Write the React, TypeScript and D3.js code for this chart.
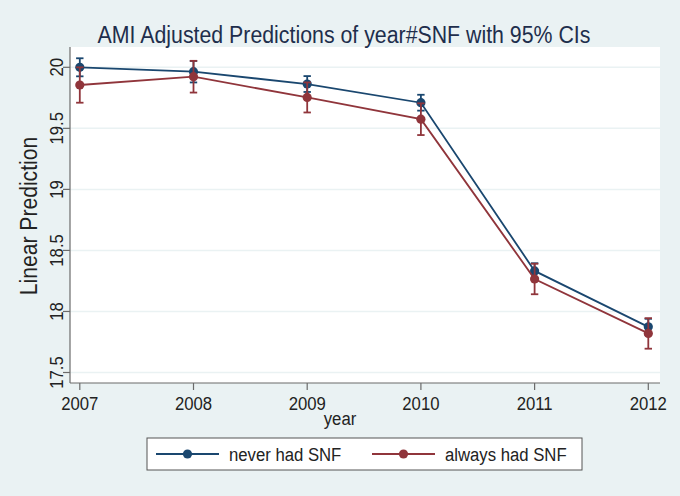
import React from "react";
import * as d3 from "d3";

const years = [2007, 2008, 2009, 2010, 2011, 2012];
const neverValues = [20.0, 19.964, 19.863, 19.71, 18.332, 17.874];
const neverHalfCI = [0.074, 0.088, 0.065, 0.065, 0.063, 0.066];
const alwaysValues = [19.855, 19.923, 19.753, 19.575, 18.266, 17.82];
const alwaysHalfCI = [0.145, 0.13, 0.123, 0.13, 0.125, 0.125];
const yTicks = [17.5, 18, 18.5, 19, 19.5, 20];
const yTickLabels = ["17.5", "18", "18.5", "19", "19.5", "20"];
const seriesNames = ["never had SNF", "always had SNF"];
const seriesColors = ["#1a476f", "#90353b"];

const W = 680;
const H = 496;
const plot = { left: 70, right: 660, top: 47, bottom: 383 };
const FONT = "'Liberation Sans', Arial, Helvetica, sans-serif";
const SQ = 0.88;

function T(props: {
  x: number;
  y: number;
  size: number;
  rotate?: number;
  anchor?: string;
  baseline?: string;
  fill?: string;
  sq?: number;
  children: React.ReactNode;
}) {
  const { x, y, size, rotate = 0, anchor = "middle", baseline, fill = "#222", sq = SQ } = props;
  return (
    <g transform={`translate(${x},${y}) rotate(${rotate}) scale(${sq},1)`}>
      <text
        x={0}
        y={0}
        textAnchor={anchor}
        dominantBaseline={baseline}
        fontSize={size}
        fill={fill}
      >
        {props.children}
      </text>
    </g>
  );
}

export default function App() {
  const x = d3.scaleLinear().domain([2007, 2012]).range([79.8, 648.3]);
  const y = d3.scaleLinear().domain([17.5, 20]).range([372.5, 67.3]);

  const series = [
    { name: seriesNames[0], color: seriesColors[0], values: neverValues, half: neverHalfCI },
    { name: seriesNames[1], color: seriesColors[1], values: alwaysValues, half: alwaysHalfCI },
  ];

  const line = d3
    .line<[number, number]>()
    .x((d) => x(d[0]))
    .y((d) => y(d[1]));

  return (
    <svg
      width={W}
      height={H}
      style={{ position: "absolute", left: 0, top: 0, display: "block" }}
      fontFamily={FONT}
    >
      <rect x={0} y={0} width={W} height={H} fill="#eaf2f3" />
      <rect
        x={plot.left}
        y={plot.top}
        width={plot.right - plot.left}
        height={plot.bottom - plot.top}
        fill="#ffffff"
      />
      {yTicks.map((t) => (
        <line
          key={"g" + t}
          x1={plot.left}
          x2={plot.right}
          y1={y(t)}
          y2={y(t)}
          stroke="#eaf2f3"
          strokeWidth={1.5}
        />
      ))}
      <T x={344} y={43} size={23.7} fill="#1e2e4c" sq={0.9}>
        AMI Adjusted Predictions of year#SNF with 95% CIs
      </T>
      {series.map((s, si) => {
        const pts: [number, number][] = years.map((yr, i) => [yr, s.values[i]]);
        return (
          <g key={"s" + si}>
            <path d={line(pts) || ""} fill="none" stroke={s.color} strokeWidth={1.8} />
            {years.map((yr, i) => {
              const cx = x(yr);
              const top = y(s.values[i] + s.half[i]);
              const bot = y(s.values[i] - s.half[i]);
              return (
                <g key={"e" + i} stroke={s.color} strokeWidth={1.8}>
                  <line x1={cx} x2={cx} y1={top} y2={bot} />
                  <line x1={cx - 3.7} x2={cx + 3.7} y1={top} y2={top} />
                  <line x1={cx - 3.7} x2={cx + 3.7} y1={bot} y2={bot} />
                </g>
              );
            })}
            {years.map((yr, i) => (
              <circle key={"c" + i} cx={x(yr)} cy={y(s.values[i])} r={4.6} fill={s.color} />
            ))}
          </g>
        );
      })}
      <line x1={plot.left} x2={plot.left} y1={plot.top} y2={plot.bottom} stroke="#6b6b6b" strokeWidth={1.2} />
      <line x1={plot.left} x2={plot.right} y1={plot.bottom} y2={plot.bottom} stroke="#6b6b6b" strokeWidth={1.2} />
      {yTicks.map((t, i) => (
        <g key={"yt" + t}>
          <line x1={plot.left - 7} x2={plot.left} y1={y(t)} y2={y(t)} stroke="#6b6b6b" strokeWidth={1.2} />
          <T x={57} y={y(t)} size={19} rotate={-90} baseline="central">
            {yTickLabels[i]}
          </T>
        </g>
      ))}
      {years.map((yr) => (
        <g key={"xt" + yr}>
          <line x1={x(yr)} x2={x(yr)} y1={plot.bottom} y2={plot.bottom + 7} stroke="#6b6b6b" strokeWidth={1.2} />
          <T x={x(yr)} y={410} size={19}>
            {String(yr)}
          </T>
        </g>
      ))}
      <T x={340} y={425} size={19}>
        year
      </T>
      <T x={29} y={216} size={24} rotate={-90} baseline="central">
        Linear Prediction
      </T>
      <rect x={147} y={438} width={435} height={32} fill="#ffffff" stroke="#555" strokeWidth={1} />
      {series.map((s, si) => {
        const lx = si === 0 ? 156 : 372;
        return (
          <g key={"l" + si}>
            <line x1={lx} x2={lx + 63} y1={454} y2={454} stroke={s.color} strokeWidth={1.8} />
            <circle cx={lx + 31.5} cy={454} r={4.6} fill={s.color} />
            <T x={lx + 73} y={461} size={19} anchor="start">
              {s.name}
            </T>
          </g>
        );
      })}
    </svg>
  );
}
